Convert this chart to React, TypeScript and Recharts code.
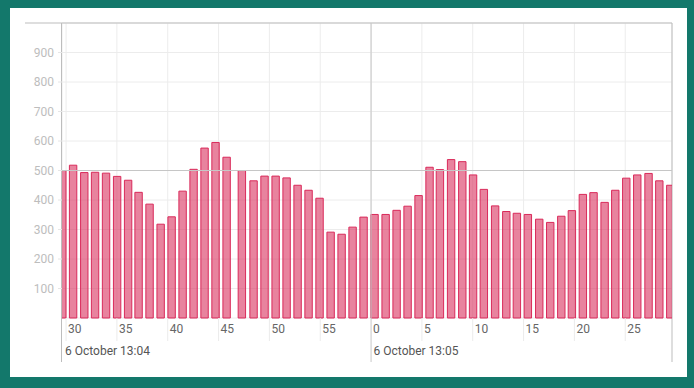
import React from 'react'
import {
  BarChart,
  Bar,
  XAxis,
  YAxis,
  CartesianGrid,
  ReferenceLine,
  Customized,
} from 'recharts'

// seconds since 13:04:00 for every sample
const TIMES = [
  29.68, 30.74, 31.84, 32.9, 33.98, 35.07, 36.15, 37.18, 38.26, 39.35,
  40.43, 41.51, 42.59, 43.67, 44.75, 45.84, 47.34, 48.49, 49.57, 50.66,
  51.74, 52.82, 53.9, 54.98, 56.07, 57.15, 58.23, 59.31, 60.39, 61.48,
  62.56, 63.64, 64.72, 65.8, 66.82, 67.92, 69.02, 70.08, 71.14, 72.25,
  73.35, 74.39, 75.47, 76.59, 77.67, 78.76, 79.8, 80.88, 81.93, 83.02,
  84.07, 85.15, 86.23, 87.34, 88.4, 89.48,
]

const VALUES = [
  500, 518, 493, 494, 491, 480, 467, 426, 386, 318,
  343, 430, 504, 576, 595, 545, 500, 465, 481, 481,
  475, 450, 433, 406, 291, 284, 308, 342, 351, 351,
  365, 379, 415, 511, 503, 537, 530, 485, 436, 380,
  361, 355, 351, 335, 324, 345, 364, 419, 425, 392,
  433, 474, 485, 490, 465, 450,
]

const X_TICKS = [30, 35, 40, 45, 50, 55, 60, 65, 70, 75, 80, 85]
const Y_TICKS = [100, 200, 300, 400, 500, 600, 700, 800, 900]
const DATE_LABELS: Record<number, string> = {
  30: '6 October 13:04',
  60: '6 October 13:05',
}

const FONT = 'Roboto, "Noto Sans", sans-serif'
const PLOT_LEFT = 62
const PLOT_RIGHT = 672
const PLOT_TOP = 23
const PLOT_BOTTOM = 318

const data = TIMES.map((t, i) => ({ t, value: VALUES[i] }))

function SecondTick(props: any) {
  const { x, payload } = props
  const v = payload.value as number
  const minute = v % 60 === 0
  const date = DATE_LABELS[v]
  return (
    <g>
      <line
        x1={x}
        x2={x}
        y1={PLOT_BOTTOM}
        y2={minute ? 362 : 341}
        stroke={minute ? '#c9c9c9' : '#ebebeb'}
      />
      <text x={x + 2} y={333} fill="#666" fontSize={12} fontFamily={FONT}>
        {v % 60}
      </text>
      {date && (
        <text
          x={minute ? x + 2.5 : PLOT_LEFT + 3}
          y={355}
          fill="#555"
          fontSize={12}
          fontFamily={FONT}
        >
          {date}
        </text>
      )}
    </g>
  )
}

function Frame() {
  return (
    <g>
      <line x1={25} x2={PLOT_RIGHT} y1={PLOT_TOP} y2={PLOT_TOP} stroke="#bdbdbd" />
      <line x1={PLOT_LEFT - 0.5} x2={PLOT_LEFT - 0.5} y1={PLOT_TOP} y2={362} stroke="#bdbdbd" />
      <line x1={PLOT_RIGHT} x2={PLOT_RIGHT} y1={PLOT_TOP} y2={362} stroke="#bdbdbd" />
    </g>
  )
}

export default function App() {
  return (
    <div style={{ position: 'absolute', left: 0, top: 0, width: 694, height: 388, background: '#13786b' }}>
      <div style={{ position: 'absolute', left: 10, top: 8, width: 677, height: 369, background: '#fff' }} />
      <div style={{ position: 'absolute', left: 0, top: 0 }}>
        <BarChart
          width={694}
          height={388}
          data={data}
          margin={{ top: PLOT_TOP, right: 694 - PLOT_RIGHT, left: 0, bottom: 20 }}
        >
          <CartesianGrid stroke="#ececec" />
          <XAxis
            dataKey="t"
            type="number"
            domain={[29.6, 89.6]}
            allowDataOverflow
            ticks={X_TICKS}
            interval={0}
            height={50}
            axisLine={false}
            tickLine={false}
            tick={<SecondTick />}
          />
          <YAxis
            type="number"
            domain={[0, 1000]}
            ticks={Y_TICKS}
            width={PLOT_LEFT}
            axisLine={false}
            tickSize={4}
            tickMargin={4}
            tickLine={{ stroke: '#e6e6e6' }}
            tick={{ fill: '#bdbdbd', fontSize: 12, fontFamily: FONT }}
          />
          <ReferenceLine y={500} stroke="#c6c6c6" />
          <ReferenceLine x={60} stroke="#c6c6c6" />
          <Bar
            dataKey="value"
            barSize={7.4}
            fill="rgba(218, 55, 98, 0.62)"
            stroke="#d92a5a"
            strokeWidth={1}
            isAnimationActive={false}
          />
          <Customized component={Frame} />
        </BarChart>
      </div>
    </div>
  )
}
